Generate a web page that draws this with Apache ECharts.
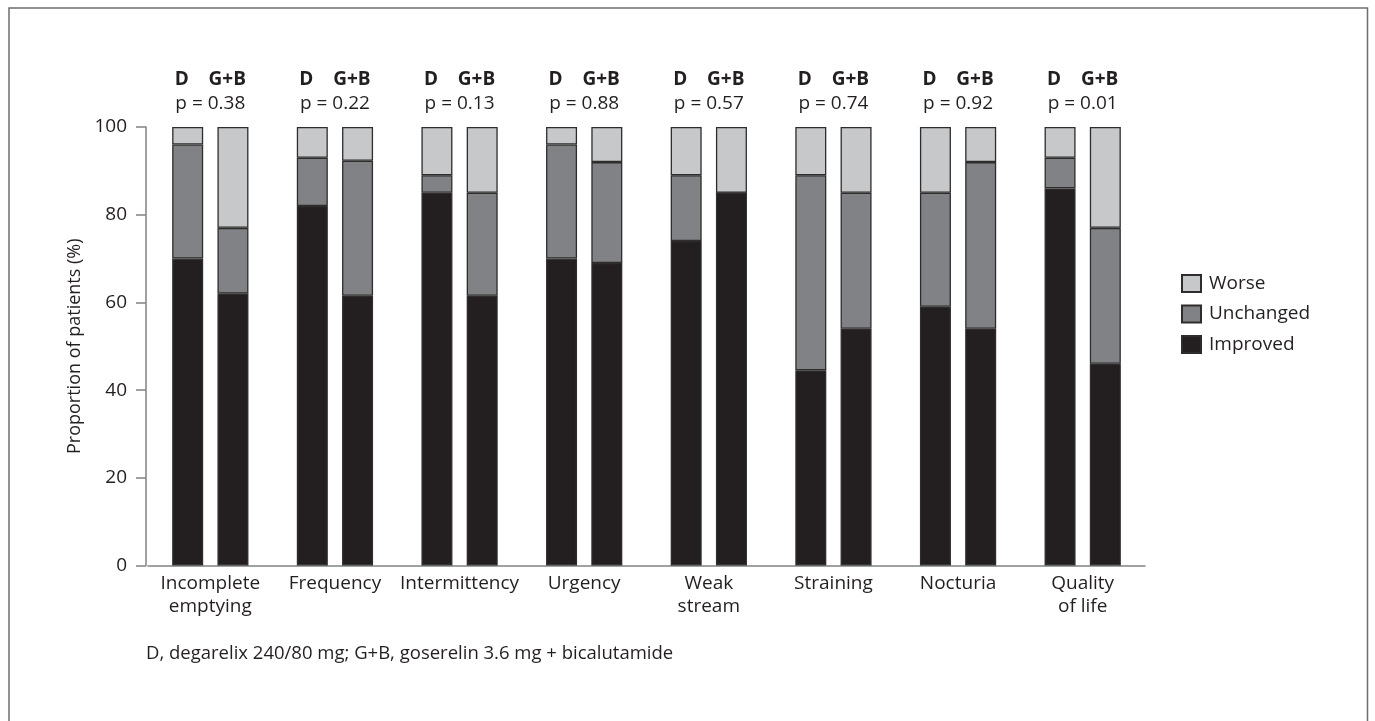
<!DOCTYPE html>
<html>
<head>
<meta charset="utf-8">
<script src="https://cdn.jsdelivr.net/npm/echarts@6/dist/echarts.min.js"></script>
<style>
html,body{margin:0;padding:0;background:#fff;}
#chart{width:1375px;height:721px;}
</style>
</head>
<body>
<div id="chart"></div>
<script>
// Categories (symptoms)
const categories = ['Incomplete\nemptying', 'Frequency', 'Intermittency', 'Urgency', 'Weak\nstream', 'Straining', 'Nocturia', 'Quality\nof life'];
// p values shown above each pair
const pValues = ['0.38', '0.22', '0.13', '0.88', '0.57', '0.74', '0.92', '0.01'];
// D, degarelix (% of patients)
const dImproved  = [70, 82, 85, 70, 74, 44.5, 59, 86];
const dUnchanged = [26, 11, 4, 26, 15, 44.5, 26, 7];
const dWorse     = [4, 7, 11, 4, 11, 11, 15, 7];
// G+B, goserelin + bicalutamide (% of patients)
const gbImproved  = [62, 61.5, 61.5, 69, 85, 54, 54, 46];
const gbUnchanged = [15, 30.8, 23.5, 23, 0, 31, 38, 31];
const gbWorse     = [23, 7.7, 15, 8, 15, 15, 8, 23];
// Y axis ticks
const yTicks = {min: 0, max: 100, interval: 20};
const footnote = 'D, degarelix 240/80 mg; G+B, goserelin 3.6 mg + bicalutamide';

const FONT = 'Open Sans';
const TXT = '#231f20';
const AXIS = '#808285';
const colors = {Improved: '#231f20', Unchanged: '#808285', Worse: '#c7c8ca'};
const BORDER = '#2e2c2d';

function barSeries(name, stack, data) {
  return {
    name: name,
    type: 'bar',
    stack: stack,
    data: data,
    barWidth: 31,
    barGap: '46%',
    itemStyle: {color: colors[name], borderColor: BORDER, borderWidth: 1.3},
    emphasis: {disabled: true},
    animation: false
  };
}

const chart = echarts.init(document.getElementById('chart'), null, {renderer: 'canvas'});
chart.setOption({
  animation: false,
  textStyle: {fontFamily: FONT, color: TXT},
  grid: {left: 148, right: 230, top: 127, bottom: 155.5, containLabel: false},
  legend: {
    orient: 'vertical',
    left: 1176,
    top: 269,
    itemWidth: 19,
    itemHeight: 17,
    itemGap: 11.5,
    icon: 'rect',
    data: ['Worse', 'Unchanged', 'Improved'],
    textStyle: {fontFamily: FONT, fontSize: 19, color: TXT, padding: [0, 0, 0, 3]},
    selectedMode: false
  },
  xAxis: [
    {
      type: 'category',
      data: categories,
      axisLine: {lineStyle: {color: AXIS, width: 1.5}},
      axisTick: {show: false},
      axisLabel: {interval: 0, fontFamily: FONT, fontSize: 19, lineHeight: 23, color: TXT, margin: 7}
    },
    {
      type: 'category',
      position: 'top',
      data: pValues,
      axisLine: {show: false},
      axisTick: {show: false},
      axisLabel: {
        interval: 0,
        margin: 11,
        formatter: function (v) { return '{g|D    G+B}\n{p|p = ' + v + '}'; },
        rich: {
          g: {fontFamily: FONT, fontSize: 19, fontWeight: 'bold', color: TXT, lineHeight: 24},
          p: {fontFamily: FONT, fontSize: 19, color: TXT, lineHeight: 24}
        }
      }
    }
  ],
  yAxis: {
    type: 'value',
    min: yTicks.min,
    max: yTicks.max,
    interval: yTicks.interval,
    offset: 2,
    name: 'Proportion of patients (%)',
    nameLocation: 'middle',
    nameGap: 61,
    nameTextStyle: {fontFamily: FONT, fontSize: 18, color: TXT},
    axisLine: {show: true, lineStyle: {color: AXIS, width: 1.5}},
    axisTick: {show: true, length: 10, lineStyle: {color: AXIS, width: 1.5}},
    axisLabel: {fontFamily: FONT, fontSize: 19, color: TXT, margin: 19},
    splitLine: {show: false}
  },
  series: [
    barSeries('Improved', 'D', dImproved),
    barSeries('Unchanged', 'D', dUnchanged),
    barSeries('Worse', 'D', dWorse),
    barSeries('Improved', 'GB', gbImproved),
    barSeries('Unchanged', 'GB', gbUnchanged),
    barSeries('Worse', 'GB', gbWorse)
  ],
  graphic: [
    {
      type: 'rect',
      silent: true,
      shape: {x: 9, y: 8, width: 1358.5, height: 760},
      style: {fill: 'none', stroke: '#6d6e71', lineWidth: 1.5}
    },
    {
      type: 'text',
      silent: true,
      left: 146,
      top: 644,
      style: {text: footnote, font: '18.5px "Open Sans"', fill: TXT}
    }
  ]
});
</script>
</body>
</html>
